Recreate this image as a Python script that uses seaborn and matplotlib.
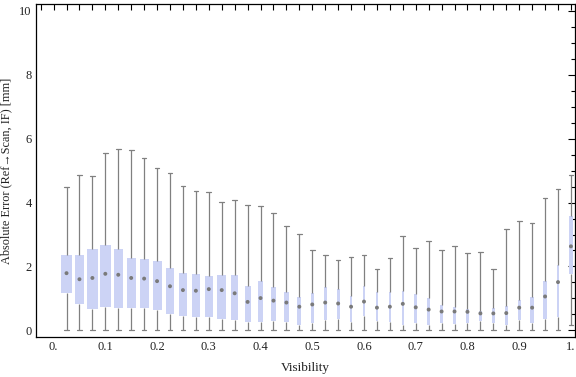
import numpy as np
import pandas as pd
import matplotlib
matplotlib.use("Agg")
import matplotlib.pyplot as plt
from matplotlib.path import Path
from matplotlib.ticker import MultipleLocator
import seaborn as sns

# Box statistics (one entry per visibility bin)
visibility = [0.025, 0.05, 0.075, 0.1, 0.125, 0.15, 0.175, 0.2, 0.225, 0.25,
              0.275, 0.3, 0.325, 0.35, 0.375, 0.4, 0.425, 0.45, 0.475, 0.5,
              0.525, 0.55, 0.575, 0.6, 0.625, 0.65, 0.675, 0.7, 0.725, 0.75,
              0.775, 0.8, 0.825, 0.85, 0.875, 0.9, 0.925, 0.95, 0.975, 1.0]
err_min = [0.0] * 39 + [0.16]
err_q1 = [1.18, 0.81, 0.68, 0.74, 0.71, 0.71, 0.71, 0.65, 0.52, 0.46,
          0.43, 0.43, 0.37, 0.33, 0.27, 0.27, 0.30, 0.27, 0.16, 0.24,
          0.33, 0.37, 0.27, 0.46, 0.30, 0.27, 0.18, 0.24, 0.18, 0.24,
          0.21, 0.22, 0.28, 0.24, 0.18, 0.33, 0.24, 0.37, 0.43, 1.75]
err_median = [1.79, 1.60, 1.64, 1.77, 1.74, 1.64, 1.62, 1.54, 1.38, 1.26,
              1.24, 1.29, 1.26, 1.16, 0.89, 1.01, 0.93, 0.87, 0.74, 0.81,
              0.87, 0.84, 0.74, 0.90, 0.71, 0.74, 0.83, 0.72, 0.65, 0.59,
              0.59, 0.58, 0.53, 0.53, 0.54, 0.71, 0.71, 1.06, 1.51, 2.63]
err_q3 = [2.35, 2.35, 2.55, 2.68, 2.55, 2.27, 2.24, 2.18, 1.96, 1.80,
          1.77, 1.71, 1.74, 1.74, 1.39, 1.55, 1.36, 1.20, 1.05, 1.17,
          1.36, 1.30, 1.08, 1.39, 1.20, 1.20, 1.23, 1.14, 1.01, 0.79,
          0.73, 0.67, 0.61, 0.69, 0.76, 0.95, 1.05, 1.55, 2.04, 3.58]
err_max = [4.48, 4.86, 4.83, 5.55, 5.68, 5.65, 5.40, 5.07, 4.93, 4.52,
           4.35, 4.33, 4.02, 4.08, 3.92, 3.89, 3.67, 3.26, 3.01, 2.51,
           2.35, 2.20, 2.29, 2.35, 1.91, 2.26, 2.95, 2.57, 2.79, 2.51,
           2.64, 2.42, 2.45, 1.91, 3.17, 3.42, 3.36, 4.14, 4.42, 4.86]

# relative box widths (fraction of bin spacing), boxes shrink with fewer samples
box_frac = [0.85, 0.7, 0.85, 0.85, 0.7, 0.7, 0.7, 0.7, 0.62, 0.62,
            0.62, 0.62, 0.68, 0.55, 0.46, 0.4, 0.4, 0.4, 0.32, 0.25,
            0.25, 0.25, 0.2, 0.2, 0.2, 0.2, 0.2, 0.25, 0.25, 0.2,
            0.25, 0.25, 0.25, 0.25, 0.25, 0.25, 0.3, 0.3, 0.2, 0.3]

x_ticks = [0.0, 0.1, 0.2, 0.3, 0.4, 0.5, 0.6, 0.7, 0.8, 0.9, 1.0]
x_ticklabels = ["0.", "0.1", "0.2", "0.3", "0.4", "0.5", "0.6", "0.7", "0.8", "0.9", "1."]
y_ticks = [0, 2, 4, 6, 8, 10]

# five points per bin reproduce min / q1 / median / q3 / max exactly
rows = []
for v, a, b, c, d, e in zip(visibility, err_min, err_q1, err_median, err_q3, err_max):
    for val in (a, b, c, d, e):
        rows.append({"Visibility": v, "Error": val})
df = pd.DataFrame(rows)

sns.set_style("white")
plt.rcParams["font.family"] = ["Liberation Serif", "DejaVu Serif"]

box_color = "#ccd3f5"
line_color = "#808080"

fig = plt.figure(figsize=(5.76, 3.77), dpi=100)
ax = fig.add_axes([0.0625, 0.106, 0.935, 0.8835])

sns.boxplot(data=df, x="Visibility", y="Error", native_scale=True, whis=(0, 100),
            color=box_color, saturation=1, width=0.8, linecolor=line_color,
            linewidth=0.9, showfliers=False,
            boxprops={"edgecolor": "none", "linewidth": 0},
            medianprops={"linewidth": 0},
            ax=ax)

# per-box widths
step = 0.025
for patch in ax.patches:
    verts = patch.get_path().vertices.copy()
    cx = (verts[:, 0].min() + verts[:, 0].max()) / 2
    i = int(np.argmin([abs(cx - v) for v in visibility]))
    half = box_frac[i] * step / 2
    verts[:, 0] = np.where(verts[:, 0] < cx, cx - half, cx + half)
    patch.set_path(Path(verts, patch.get_path().codes))

# short whisker caps
for line in ax.lines:
    xd = np.asarray(line.get_xdata(), dtype=float)
    yd = np.asarray(line.get_ydata(), dtype=float)
    if len(xd) == 2 and yd[0] == yd[1] and xd[0] != xd[1]:
        cx = xd.mean()
        line.set_xdata([cx - 0.0045, cx + 0.0045])

# median markers
sns.scatterplot(x=visibility, y=err_median, color="#7a7a7a", s=8,
                edgecolor="none", zorder=5, ax=ax)

ax.set_xlim(-0.034, 1.007)
ax.set_ylim(-0.21, 10.22)
ax.set_xticks(x_ticks)
ax.set_xticklabels(x_ticklabels)
ax.xaxis.set_minor_locator(MultipleLocator(0.025))
ax.set_yticks(y_ticks)
ax.set_yticklabels([str(t) for t in y_ticks])
ax.yaxis.set_minor_locator(MultipleLocator(0.5))

ax.tick_params(axis="both", which="both", direction="in", top=True, right=True,
               width=0.8, color="black", labelsize=9, labelcolor="#222222", pad=3)
ax.tick_params(axis="x", which="both", length=4)
ax.tick_params(axis="y", which="major", length=5)
ax.tick_params(axis="y", which="minor", length=3)

for sp in ax.spines.values():
    sp.set_visible(True)
    sp.set_color("black")
    sp.set_linewidth(0.9)

ax.set_xlabel("Visibility", fontsize=9.5, color="#222222", labelpad=6)
ax.set_ylabel("Absolute Error (Ref\u2192Scan, IF) [mm]", fontsize=8.8,
              color="#222222", labelpad=5)
ax.grid(False)

fig.savefig("out.png", dpi=100)
